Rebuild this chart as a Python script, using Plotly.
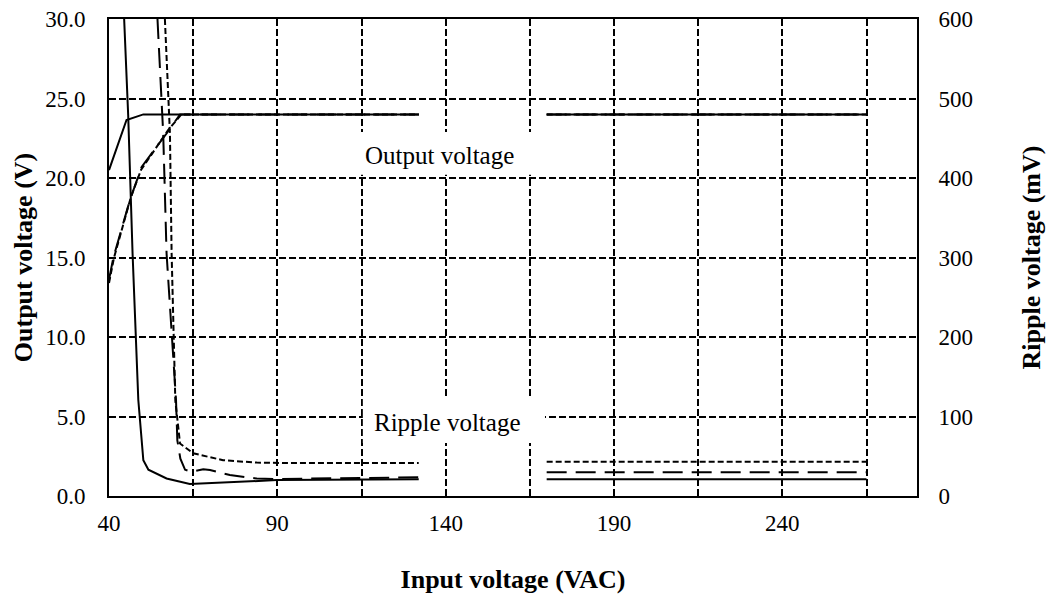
import plotly.graph_objects as go

# ---------------- data ----------------
# Output voltage (V), left axis
out_solid_x = [40, 45.2, 50.2, 65, 90, 115, 132, None, 170, 190, 215, 240, 265]
out_solid_y = [20.5, 23.65, 24.0, 24.0, 24.0, 24.0, 24.0, None, 24.0, 24.0, 24.0, 24.0, 24.0]

out_ldash_x = [40, 41.3, 46.2, 49.7, 57.1, 61.1, 65, 90, 132, None, 170, 265]
out_ldash_y = [13.6, 15.0, 18.6, 20.7, 22.8, 24.0, 24.0, 24.0, 24.0, None, 24.0, 24.0]

out_sdash_x = [40, 41.5, 46.5, 49.5, 57.5, 61.5, 65, 90, 132, None, 170, 265]
out_sdash_y = [13.4, 15.0, 18.8, 20.5, 23.0, 24.0, 24.0, 24.0, 24.0, None, 24.0, 24.0]

# Ripple voltage (mV), right axis
rip_solid_x = [44.5, 45.7, 47.0, 48.7, 50.2, 51.7, 57.1, 64.0, 89.8, 132, None, 170, 265]
rip_solid_y = [600, 479, 305, 121, 45, 33, 22, 15, 20, 21, None, 21, 21]

rip_ldash_x = [54.4, 56.1, 57.1, 59.9, 60.3, 61.2, 62.6, 64.5, 68, 70, 75.9, 83.9, 89.8, 132, None, 170, 265]
rip_ldash_y = [600, 456, 305, 121, 70, 47, 33, 30.6, 33.5, 32.7, 26.4, 22, 21.4, 23.5, None, 30, 30]

rip_sdash_x = [56.6, 58.1, 58.6, 59.7, 61.1, 65, 73.9, 83.9, 93.8, 132, None, 170, 265]
rip_sdash_y = [600, 456, 305, 120, 66, 53.7, 45, 42, 41.5, 41.5, None, 43, 43]

x_ticks = [40, 90, 140, 190, 240]
y_left_ticks = [0, 5, 10, 15, 20, 25, 30]
y_right_ticks = [0, 100, 200, 300, 400, 500, 600]

FONT = "Liberation Serif"
BLACK = "#000000"
GRID_DASH = "7px,3px"

fig = go.Figure()

def add(x, y, dash, yaxis="y"):
    fig.add_trace(go.Scatter(
        x=x, y=y, mode="lines", yaxis=yaxis, connectgaps=False,
        line=dict(color=BLACK, width=2, dash=dash),
        showlegend=False, hoverinfo="skip"))

add(out_solid_x, out_solid_y, "solid")
add(out_ldash_x, out_ldash_y, "20px,9px")
add(out_sdash_x, out_sdash_y, "6px,3px")
add(rip_solid_x, rip_solid_y, "solid", "y2")
add(rip_ldash_x, rip_ldash_y, "20px,9px", "y2")
add(rip_sdash_x, rip_sdash_y, "6px,3px", "y2")

# white boxes behind the text labels (cover gridlines, below traces)
fig.add_shape(type="rect", xref="x", yref="y", x0=112.5, x1=168.0, y0=20.2, y1=22.9,
              fillcolor="white", line=dict(width=0), layer="between")
fig.add_shape(type="rect", xref="x", yref="y", x0=115.4, x1=169.5, y0=3.33, y1=6.23,
              fillcolor="white", line=dict(width=0), layer="between")

fig.add_annotation(x=138.3, y=21.4, xref="x", yref="y", text="Output voltage",
                   showarrow=False, font=dict(family=FONT, size=25, color=BLACK))
fig.add_annotation(x=140.4, y=4.65, xref="x", yref="y", text="Ripple voltage",
                   showarrow=False, font=dict(family=FONT, size=25, color=BLACK))

tickfont = dict(family=FONT, size=23, color=BLACK)
titlefont = dict(family=FONT, size=26, color=BLACK, weight="bold")

fig.update_layout(
    width=1050, height=594,
    margin=dict(l=109, r=133, t=19, b=98),
    paper_bgcolor="white", plot_bgcolor="white",
    font=dict(family=FONT, color=BLACK),
    xaxis=dict(
        range=[40, 280], tickvals=x_ticks, ticktext=[str(v) for v in x_ticks],
        showline=True, linecolor=BLACK, linewidth=2, mirror=True, automargin=False,
        showgrid=True, gridcolor=BLACK, gridwidth=2, griddash=GRID_DASH,
        minor=dict(dtick=25, tick0=40, showgrid=True, gridcolor=BLACK, gridwidth=2, griddash=GRID_DASH),
        ticks="", ticklabelstandoff=5, tickfont=tickfont, zeroline=False,
        title=dict(text="Input voltage (VAC)", font=titlefont, standoff=37),
    ),
    yaxis=dict(
        range=[0, 30], tickvals=y_left_ticks, tickformat=".1f", automargin=False,
        showline=True, linecolor=BLACK, linewidth=2, mirror=True,
        showgrid=True, gridcolor=BLACK, gridwidth=2, griddash=GRID_DASH,
        ticks="", ticklabelstandoff=17, tickfont=tickfont, zeroline=False,
        title=dict(text="Output voltage (V)", font=titlefont, standoff=5),
    ),
    yaxis2=dict(
        range=[0, 600], tickvals=y_right_ticks, overlaying="y", side="right", automargin=False,
        showline=True, linecolor=BLACK, linewidth=2, showgrid=False,
        ticks="", ticklabelstandoff=15, tickfont=tickfont, zeroline=False,
        title=dict(text="Ripple voltage (mV)", font=titlefont, standoff=50),
    ),
)

fig.write_html("out.html")
